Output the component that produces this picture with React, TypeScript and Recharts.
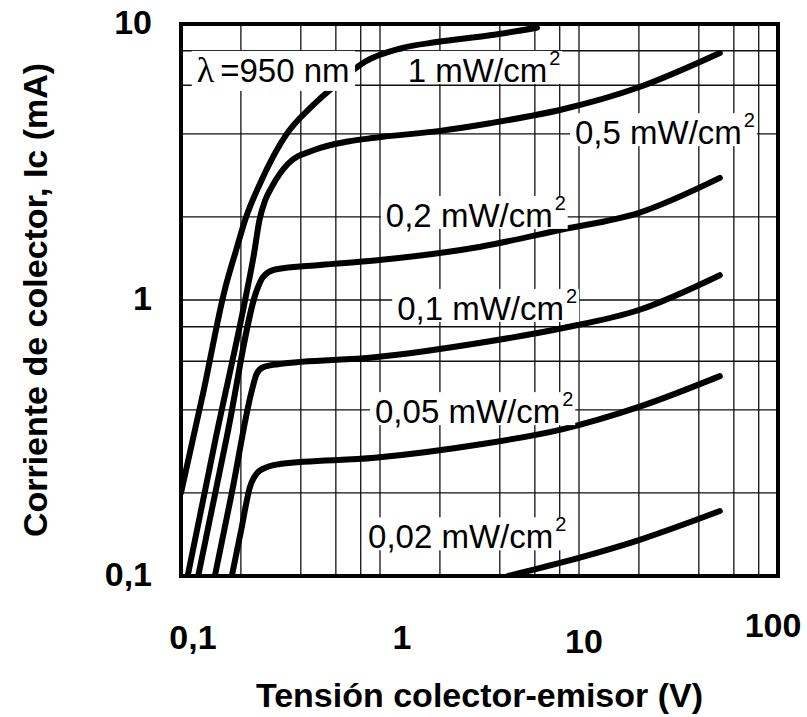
import React from 'react'
import { LineChart, Line, XAxis, YAxis, CartesianGrid, ReferenceArea, ReferenceDot } from 'recharts'

// grid positions on the log axes (labels only on decades)
const gridX = [0.1, 0.2, 0.4, 0.6, 0.8, 1, 2, 4, 6, 8, 10, 20, 40, 60, 80, 100]
const gridY = [0.1, 0.2, 0.4, 0.6, 0.8, 1, 2, 4, 6, 8, 10]
const decadeText: Record<string, string> = { '0.1': '0,1', '1': '1', '10': '10', '100': '100' }
// small nudges of the x decade labels, as printed in the datasheet
const xLabelNudge: Record<string, [number, number]> = { '0.1': [12, 0], '1': [22, 0], '10': [5, 4], '100': [-5, -12] }

// [Vce (V), Ic (mA)]
const ic1 = [[0.1, 0.2], [0.13, 0.47], [0.166, 1.09], [0.19, 1.53], [0.21, 1.95], [0.25, 2.65], [0.29, 3.3], [0.34, 4.0], [0.45, 5.0], [0.58, 5.9], [0.84, 7.3], [1.3, 8.2], [1.93, 8.6], [3.57, 9.1], [6.15, 9.7]]
const ic05 = [[0.108, 0.1], [0.15, 0.32], [0.21, 1.0], [0.232, 1.45], [0.248, 1.95], [0.265, 2.3], [0.286, 2.57], [0.344, 3.11], [0.47, 3.5], [0.69, 3.75], [0.94, 3.87], [2, 4.1], [3.57, 4.37], [8.2, 4.9], [20, 5.9], [51, 7.85]]
const ic02 = [[0.122, 0.1], [0.17, 0.32], [0.241, 1.09], [0.258, 1.21], [0.297, 1.29], [0.5, 1.34], [0.94, 1.39], [3.2, 1.56], [8.2, 1.8], [20, 2.07], [51, 2.77]]
const ic01 = [[0.148, 0.1], [0.18, 0.2], [0.227, 0.47], [0.24, 0.54], [0.258, 0.57], [0.307, 0.585], [0.94, 0.62], [3.2, 0.7], [8.2, 0.79], [20, 0.92], [51, 1.23]]
const ic005 = [[0.18, 0.1], [0.2, 0.145], [0.222, 0.21], [0.24, 0.235], [0.27, 0.248], [0.32, 0.255], [0.94, 0.268], [3.2, 0.3], [8.2, 0.34], [20, 0.41], [51, 0.53]]
const ic002 = [[4.4, 0.1], [8.2, 0.112], [20, 0.135], [51, 0.172]]

const curves = [ic1, ic05, ic02, ic01, ic005, ic002]

// curve annotations, anchored at text start / baseline in data units
const curveLabels = [
  { x: 0.12, y: 6.17, prefix: 'λ', text: '=950 nm', sup: '', covers: true },
  { x: 1.38, y: 6.17, prefix: '', text: '1 mW/cm', sup: '2', covers: false },
  { x: 9.55, y: 3.67, prefix: '', text: '0,5 mW/cm', sup: '2', covers: false },
  { x: 1.07, y: 1.84, prefix: '', text: '0,2 mW/cm', sup: '2', covers: false },
  { x: 1.22, y: 0.847, prefix: '', text: '0,1 mW/cm', sup: '2', covers: false },
  { x: 0.944, y: 0.358, prefix: '', text: '0,05 mW/cm', sup: '2', covers: false },
  { x: 0.871, y: 0.126, prefix: '', text: '0,02 mW/cm', sup: '2', covers: false },
]

const FONT = '"Liberation Sans", Arial, Helvetica, sans-serif'

const charW: Record<string, number> = {
  '0': 0.556, '1': 0.556, '2': 0.556, '5': 0.556, '9': 0.556, ',': 0.278, ' ': 0.278,
  m: 0.833, W: 0.944, '/': 0.278, c: 0.5, n: 0.556, '=': 0.584,
}
const textWidth = (s: string, size: number) =>
  s.split('').reduce((a, ch) => a + (charW[ch] ?? 0.556), 0) * size

const LABEL_FS = 33

function LabelBox(props: any) {
  const { cx, cy, item } = props
  if (cx == null || cy == null) return null
  const pre = item.prefix ? 26 : 0
  const w = pre + textWidth(item.text, LABEL_FS) + (item.sup ? 12 : 0)
  // the boxes next to the rising curves stay shallow so they never hide them
  const bottom = item.covers ? 9 : 2
  return <rect x={cx - 5} y={cy - 31} width={w + 8} height={31 + bottom} fill="#fff" />
}

function LabelText(props: any) {
  const { cx, cy, item } = props
  if (cx == null || cy == null) return null
  return (
    <g>
      <LabelBox {...props} />
      <text x={cx} y={cy} fontSize={LABEL_FS} fontFamily={FONT} fill="#000">
        {item.prefix ? (
          <tspan fontFamily='"Liberation Serif", serif' fontSize={36}>{item.prefix}</tspan>
        ) : null}
        <tspan dx={item.prefix ? 6 : 0}>{item.text}</tspan>
        {item.sup ? (
          <tspan dx={2} dy={-17} fontSize={20}>{item.sup}</tspan>
        ) : null}
      </text>
    </g>
  )
}

function XTick(props: any) {
  const { x, y, payload } = props
  const key = String(payload.value)
  const t = decadeText[key]
  if (!t) return null
  const [dx, dy] = xLabelNudge[key] || [0, 0]
  return (
    <text x={x + dx} y={y + 61 + dy} textAnchor="middle" dominantBaseline="central"
      fontSize={34} fontWeight="bold" fontFamily={FONT} fill="#000">{t}</text>
  )
}

function YTick(props: any) {
  const { x, y, payload } = props
  const t = decadeText[String(payload.value)]
  if (!t) return null
  return (
    <text x={x - 29} y={y - 2} textAnchor="end" dominantBaseline="central"
      fontSize={34} fontWeight="bold" fontFamily={FONT} fill="#000">{t}</text>
  )
}

function YTitle(props: any) {
  const vb = props.viewBox || {}
  const x = (vb.x ?? 0) + 35
  const y = (vb.y ?? 0) + (vb.height ?? 0) / 2
  return (
    <text x={x} y={y} transform={`rotate(-90, ${x}, ${y})`} textAnchor="middle" dominantBaseline="central"
      fontSize={34} fontWeight="bold" fontFamily={FONT} fill="#000">
      Corriente de colector, Ic (mA)
    </text>
  )
}

export default function App() {
  return (
    <div style={{ width: 807, height: 717, background: '#fff' }}>
      <style>{'body{margin:0}'}</style>
      <LineChart width={807} height={717} margin={{ top: 24, right: 29, left: 0, bottom: 0 }}>
        <CartesianGrid stroke="#111" strokeWidth={1.3} />
        <XAxis
          type="number"
          dataKey="x"
          scale="log"
          domain={[0.1, 100]}
          allowDataOverflow
          ticks={gridX}
          interval={0}
          height={141}
          axisLine={false}
          tickLine={false}
          tickSize={0}
          tickMargin={0}
          tick={<XTick />}
          label={{
            value: 'Tensión colector-emisor (V)',
            position: 'insideBottom',
            offset: 10,
            fontSize: 34,
            fontWeight: 'bold',
            fontFamily: FONT,
            fill: '#000',
          }}
        />
        <YAxis
          type="number"
          dataKey="y"
          scale="log"
          domain={[0.1, 10]}
          allowDataOverflow
          ticks={gridY}
          interval={0}
          width={181}
          axisLine={false}
          tickLine={false}
          tickSize={0}
          tickMargin={0}
          tick={<YTick />}
          label={(p: any) => <YTitle {...p} />}
        />
        {curves.map((c, i) => (
          <Line
            key={i}
            data={c.map(([x, y]) => ({ x, y }))}
            dataKey="y"
            type="monotone"
            stroke="#000"
            strokeWidth={6}
            strokeLinecap="round"
            dot={false}
            activeDot={false}
            isAnimationActive={false}
          />
        ))}
        {curveLabels.map((l, i) => (
          <ReferenceDot
            key={'t' + i}
            x={l.x}
            y={l.y}
            r={1}
            shape={(p: any) => <LabelText {...p} item={l} />}
          />
        ))}
        <ReferenceArea x1={0.1} x2={100} y1={0.1} y2={10} fill="none" stroke="#000" strokeWidth={4} />
      </LineChart>
    </div>
  )
}
